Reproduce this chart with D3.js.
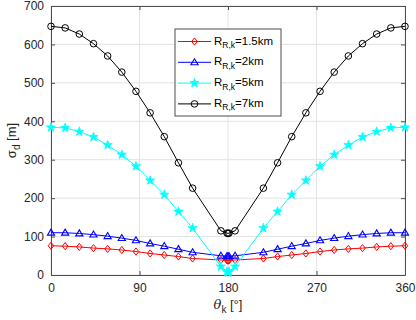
<!DOCTYPE html>
<html>
<head>
<meta charset="utf-8">
<script src="https://cdn.jsdelivr.net/npm/d3@7"></script>
<style>
  body { margin: 0; background: #fff; }
  text { font-family: "Liberation Sans", Arial, sans-serif; }
</style>
</head>
<body>
<div id="chart"></div>
<script>
// angles (deg)
const theta = [0, 14.4, 28.8, 43.2, 57.6, 72, 86.4, 100.8, 115.2, 129.6, 144,
  172.8, 179, 180, 181, 187.2,
  216, 230.4, 244.8, 259.2, 273.6, 288, 302.4, 316.8, 331.2, 345.6, 360];

const r15 = [76, 75, 73, 70, 68, 65, 61, 56, 52, 48, 43, 39, 38, 37, 38, 39, 43, 48, 52, 56, 61, 65, 68, 70, 73, 75, 76];
const r2 = [110, 110, 108, 105, 101, 96, 90, 82, 75, 67, 59, 50, 49, 48, 49, 50, 59, 67, 75, 82, 90, 96, 101, 105, 108, 110, 110];
const r5 = [384, 383, 373, 359, 338, 313, 283, 246, 209, 165, 122, 22, 9, 6, 9, 22, 122, 165, 209, 246, 283, 313, 338, 359, 373, 383, 384];
const r7 = [647, 643, 627, 602, 570, 528, 478, 422, 360, 292, 226, 115, 109, 108, 109, 115, 226, 292, 360, 422, 478, 528, 570, 602, 627, 643, 647];

const xTicks = [0, 90, 180, 270, 360];
const yTicks = [0, 100, 200, 300, 400, 500, 600, 700];
const labels = ['=1.5km', '=2km', '=5km', '=7km'];

const W = 416, H = 320;
const margin = {top: 6, right: 11, bottom: 45, left: 51};
const graphWidth = W - margin.left - margin.right;
const graphHeight = H - margin.top - margin.bottom;

const svg = d3.select('#chart').append('svg')
  .attr('width', W)
  .attr('height', H);

const graph = svg.append('g')
  .attr('transform', `translate(${margin.left},${margin.top})`);

const x = d3.scaleLinear().domain([0, 360]).range([0, graphWidth]);
const y = d3.scaleLinear().domain([0, 700]).range([graphHeight, 0]);

// grid
graph.append('g').selectAll('line.gx')
  .data(xTicks).enter().append('line')
  .attr('x1', d => x(d)).attr('x2', d => x(d))
  .attr('y1', 0).attr('y2', graphHeight)
  .attr('stroke', '#e3e3e3').attr('stroke-width', 1);
graph.append('g').selectAll('line.gy')
  .data(yTicks).enter().append('line')
  .attr('x1', 0).attr('x2', graphWidth)
  .attr('y1', d => y(d)).attr('y2', d => y(d))
  .attr('stroke', '#e3e3e3').attr('stroke-width', 1);

// axes (ticks inward, matlab style)
const axCol = '#4d4d4d';
const xAxis = d3.axisBottom(x).tickValues(xTicks).tickSizeInner(-4).tickSizeOuter(0).tickPadding(8);
const yAxis = d3.axisLeft(y).tickValues(yTicks).tickSizeInner(-4).tickSizeOuter(0).tickPadding(7);
const xTop = d3.axisTop(x).tickValues(xTicks).tickSizeInner(-4).tickSizeOuter(0).tickFormat('');
const yRight = d3.axisRight(y).tickValues(yTicks).tickSizeInner(-4).tickSizeOuter(0).tickFormat('');

graph.append('g').attr('transform', `translate(0,${graphHeight})`).call(xAxis);
graph.append('g').call(yAxis);
graph.append('g').call(xTop);
graph.append('g').attr('transform', `translate(${graphWidth},0)`).call(yRight);

graph.selectAll('.domain').attr('stroke', axCol);
graph.selectAll('.tick line').attr('stroke', axCol);
graph.selectAll('.tick text')
  .attr('fill', '#262626')
  .style('font-size', '12px');

// series
const series = [
  {vals: r15, color: '#ff0000', marker: 'diamond'},
  {vals: r2, color: '#0000ff', marker: 'triangle'},
  {vals: r5, color: '#00ffff', marker: 'star'},
  {vals: r7, color: '#000000', marker: 'circle'}
];

function drawMarker(g, type, color, cx, cy) {
  if (type === 'circle') {
    g.append('circle').attr('cx', cx).attr('cy', cy).attr('r', 3.3)
      .attr('fill', 'none').attr('stroke', color).attr('stroke-width', 1);
  } else if (type === 'diamond') {
    g.append('path')
      .attr('d', `M${cx},${cy - 3.6}L${cx + 2.8},${cy}L${cx},${cy + 3.6}L${cx - 2.8},${cy}Z`)
      .attr('fill', 'none').attr('stroke', color).attr('stroke-width', 1);
  } else if (type === 'triangle') {
    g.append('path')
      .attr('d', `M${cx},${cy - 3.6}L${cx + 3.6},${cy + 2.4}L${cx - 3.6},${cy + 2.4}Z`)
      .attr('fill', 'none').attr('stroke', color).attr('stroke-width', 1.1);
  } else {
    g.append('path')
      .attr('d', d3.symbol().type(d3.symbolStar).size(26)())
      .attr('transform', `translate(${cx},${cy})`)
      .attr('fill', color).attr('stroke', color).attr('stroke-width', 0.8);
  }
}

const line = d3.line().x(d => x(d[0])).y(d => y(d[1]));

series.forEach(s => {
  const pts = theta.map((t, i) => [t, s.vals[i]]);
  const g = graph.append('g');
  g.append('path').datum(pts)
    .attr('d', line)
    .attr('fill', 'none')
    .attr('stroke', s.color)
    .attr('stroke-width', 1);
  pts.forEach(p => drawMarker(g, s.marker, s.color, x(p[0]), y(p[1])));
});

// legend
const lg = svg.append('g').attr('transform', 'translate(175,29)');
lg.append('rect').attr('width', 106).attr('height', 87)
  .attr('fill', '#fff').attr('stroke', axCol).attr('stroke-width', 1);
series.forEach((s, i) => {
  const ly = 12.5 + i * 20.8;
  lg.append('line').attr('x1', 3).attr('x2', 36).attr('y1', ly).attr('y2', ly)
    .attr('stroke', s.color).attr('stroke-width', 1);
  drawMarker(lg, s.marker, s.color, 19.5, ly);
  const t = lg.append('text').attr('x', 39).attr('y', ly + 3)
    .attr('fill', '#000').style('font-size', '11.5px');
  t.append('tspan').text('R');
  t.append('tspan').attr('dy', 3.5).style('font-size', '8.5px').text('R,k');
  t.append('tspan').attr('dy', -3.5).text(labels[i]);
});

// axis labels
const xl = svg.append('text')
  .attr('x', margin.left + x(180)).attr('y', 309)
  .attr('text-anchor', 'middle').attr('fill', '#262626').style('font-size', '13px');
xl.append('tspan').style('font-style', 'italic').style('font-family', '"DejaVu Serif", serif').text('θ');
xl.append('tspan').attr('dy', 4).style('font-size', '10px').text('k');
xl.append('tspan').attr('dy', -4).text(' [°]');

const yl = svg.append('text')
  .attr('transform', `translate(16,${margin.top + graphHeight / 2}) rotate(-90)`)
  .attr('text-anchor', 'middle').attr('fill', '#262626').style('font-size', '13px');
yl.append('tspan').text('σ');
yl.append('tspan').attr('dy', 4).style('font-size', '10px').text('d');
yl.append('tspan').attr('dy', -4).text(' [m]');
</script>
</body>
</html>
